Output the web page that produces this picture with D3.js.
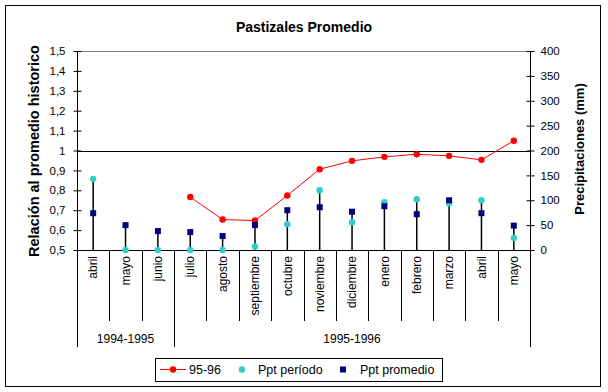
<!DOCTYPE html>
<html><head><meta charset="utf-8">
<script src="https://cdn.jsdelivr.net/npm/d3@7"></script>
<style>body{margin:0;background:#fff}text{font-family:"Liberation Sans",Arial,sans-serif}</style>
</head><body><svg id="c" width="608" height="392"></svg>
<script>
const categories = ["abril","mayo","junio","julio","agosto","septiembre","octubre","noviembre","diciembre","enero","febrero","marzo","abril","mayo"];
const groups = [{label:"1994-1995", start:0, end:3},{label:"1995-1996", start:3, end:14}];
const ratio9596 = [null,null,null,0.766,0.653,0.648,0.774,0.906,0.948,0.968,0.981,0.973,0.953,1.049];
const pptPeriodo = [143,0,0,0,0,7,52,120,56,96,102,94,100,24];
const pptPromedio = [74,50,38,36,28,50,80,86,77,88,72,100,74,49];
const leftTicks = [0.5,0.6,0.7,0.8,0.9,1.0,1.1,1.2,1.3,1.4,1.5];
const leftTickLabels = ["0,5","0,6","0,7","0,8","0,9","1","1,1","1,2","1,3","1,4","1,5"];
const rightTicks = [0,50,100,150,200,250,300,350,400];

const svg = d3.select("#c");
const L = 77, R = 530, T = 51, B = 250;
const x = d3.scaleBand().domain(d3.range(categories.length)).range([L, R]).padding(0);
const yL = d3.scaleLinear().domain([0.5, 1.5]).range([B, T]);
const yR = d3.scaleLinear().domain([0, 400]).range([B, T]);
const cx = i => x(i) + x.bandwidth()/2;

// outer border
svg.append("rect").attr("x",5.5).attr("y",5.5).attr("width",595).attr("height",381)
  .attr("fill","#fff").attr("stroke","#000");

// title
svg.append("text").attr("x",304).attr("y",32).attr("text-anchor","middle")
  .attr("font-size",14).attr("font-weight","bold").text("Pastizales Promedio");

// top gridline and 1.0 line
svg.append("line").attr("x1",L).attr("x2",R).attr("y1",Math.round(yL(1.5))+0.5).attr("y2",Math.round(yL(1.5))+0.5).attr("stroke","#808080");
svg.append("line").attr("x1",L).attr("x2",R).attr("y1",Math.round(yL(1.0))+0.5).attr("y2",Math.round(yL(1.0))+0.5).attr("stroke","#000");

// left axis
const gL = svg.append("g").attr("transform",`translate(${L+0.5},0)`)
  .call(d3.axisLeft(yL).tickValues(leftTicks).tickFormat((d,i)=>leftTickLabels[i]).tickSize(4).tickPadding(8));
gL.select(".domain").attr("d",`M0,${T}V${B}`);
gL.selectAll(".tick line").attr("x1",-4).attr("x2",4);
gL.selectAll(".tick text").attr("font-size",11.5).attr("font-family","Liberation Sans, Arial, sans-serif");

// right axis
const gR = svg.append("g").attr("transform",`translate(${R+0.5},0)`)
  .call(d3.axisRight(yR).tickValues(rightTicks).tickSize(4).tickPadding(6));
gR.select(".domain").attr("d",`M0,${T}V${B}`);
gR.selectAll(".tick line").attr("x1",-4).attr("x2",4);
gR.selectAll(".tick text").attr("font-size",11.5).attr("font-family","Liberation Sans, Arial, sans-serif");

// bottom axis line
svg.append("line").attr("x1",L).attr("x2",R+1).attr("y1",B+0.5).attr("y2",B+0.5).attr("stroke","#000");

// category separators
for (let i = 0; i <= categories.length; i++) {
  const xx = Math.round(i < categories.length ? x(i) : R) + 0.5;
  const isGroup = groups.some(g => g.start === i || g.end === i);
  svg.append("line").attr("x1",xx).attr("x2",xx).attr("y1",B).attr("y2",isGroup ? 347 : 321).attr("stroke","#000");
}
// category labels
svg.append("g").selectAll("text").data(categories).join("text")
  .attr("transform",(d,i)=>`translate(${cx(i)},256) rotate(-90)`)
  .attr("text-anchor","end").attr("dy","0.35em").attr("font-size",12).text(d=>d);
// group labels
svg.append("g").selectAll("text").data(groups).join("text")
  .attr("x",d => (x(d.start) + (d.end < categories.length ? x(d.end) : R))/2)
  .attr("y",339).attr("dy","0.35em").attr("text-anchor","middle").attr("font-size",12).text(d=>d.label);

// axis titles
svg.append("text").attr("transform",`translate(39,151) rotate(-90)`).attr("text-anchor","middle")
  .attr("font-size",14.5).attr("font-weight","bold").text("Relación al promedio historico");
svg.append("text").attr("transform",`translate(584,149) rotate(-90)`).attr("text-anchor","middle")
  .attr("font-size",13).attr("font-weight","bold").text("Precipitaciones (mm)");

// stems
svg.append("g").selectAll("line").data(categories).join("line")
  .attr("x1",(d,i)=>cx(i)).attr("x2",(d,i)=>cx(i))
  .attr("y1",yR(0)).attr("y2",(d,i)=>yR(Math.max(pptPeriodo[i],pptPromedio[i])))
  .attr("stroke","#000").attr("stroke-width",1.5);

// red line
const pts = ratio9596.map((v,i)=>({v,i})).filter(d=>d.v!=null);
svg.append("path").datum(pts).attr("fill","none").attr("stroke","#ff0000").attr("stroke-width",1)
  .attr("d", d3.line().x(d=>cx(d.i)).y(d=>yL(d.v)));
svg.append("g").selectAll("circle").data(pts).join("circle")
  .attr("cx",d=>cx(d.i)).attr("cy",d=>yL(d.v)).attr("r",3.2).attr("fill","#ff0000");

// ppt periodo
svg.append("g").selectAll("circle").data(pptPeriodo).join("circle")
  .attr("cx",(d,i)=>cx(i)).attr("cy",d=>yR(d)).attr("r",3.2).attr("fill","#33cccc");
// ppt promedio
svg.append("g").selectAll("rect").data(pptPromedio).join("rect")
  .attr("x",(d,i)=>cx(i)-3).attr("y",d=>yR(d)-3).attr("width",6).attr("height",6).attr("fill","#000080");

// legend
const lg = svg.append("g");
lg.append("rect").attr("x",155.5).attr("y",358.5).attr("width",287).attr("height",23).attr("fill","#fff").attr("stroke","#000");
lg.append("line").attr("x1",160).attr("x2",186).attr("y1",369.5).attr("y2",369.5).attr("stroke","#ff0000");
lg.append("circle").attr("cx",173).attr("cy",369.5).attr("r",3.2).attr("fill","#ff0000");
lg.append("text").attr("x",189).attr("y",369.5).attr("dy","0.35em").attr("font-size",12.5).text("95-96");
lg.append("circle").attr("cx",242).attr("cy",369.5).attr("r",3.2).attr("fill","#33cccc");
lg.append("text").attr("x",258).attr("y",369.5).attr("dy","0.35em").attr("font-size",12.5).text("Ppt período");
lg.append("rect").attr("x",340).attr("y",366.5).attr("width",6).attr("height",6).attr("fill","#000080");
lg.append("text").attr("x",360).attr("y",369.5).attr("dy","0.35em").attr("font-size",12.5).text("Ppt promedio");
</script></body></html>
